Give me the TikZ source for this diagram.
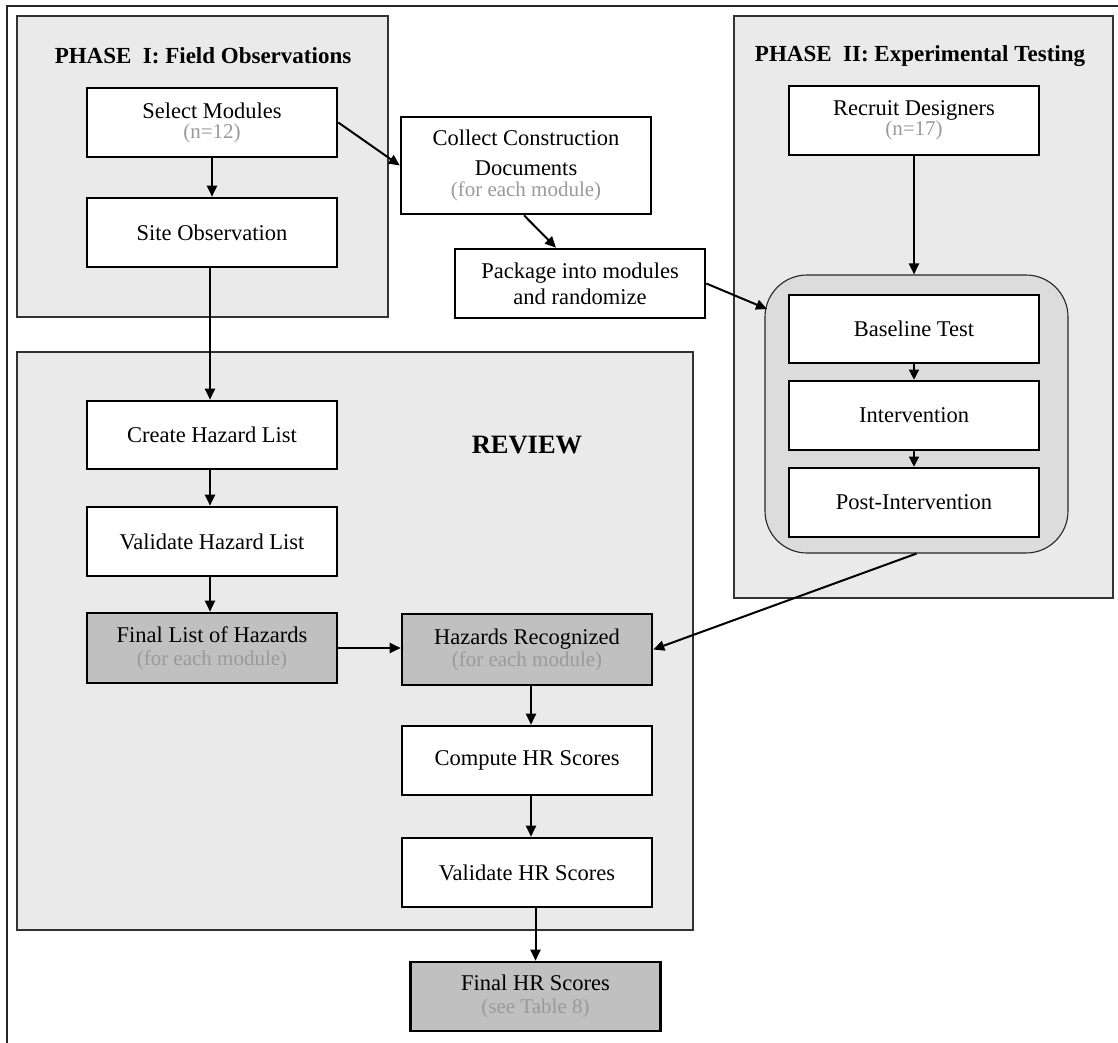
\documentclass[tikz,border=0pt]{standalone}
\usepackage{fontspec}
\setmainfont{Liberation Serif}
\usetikzlibrary{arrows.meta}
\definecolor{panel}{HTML}{EAEAEA}
\definecolor{groupfill}{HTML}{DCDCDC}
\definecolor{darkfill}{HTML}{C0C0C0}
\definecolor{subgray}{HTML}{9A9A9A}
\newcommand\subtxt[1]{{\color{subgray}\fontsize{21}{24}\selectfont #1}}
\begin{document}
\begin{tikzpicture}[x=1pt,y=-1pt,
  box/.style={draw=black,line width=2.6pt,fill=white,minimum width=250pt,minimum height=69pt,
    align=center,inner sep=0pt,font=\fontsize{22.5}{26}\selectfont},
  dbox/.style={box,fill=darkfill},
  panelbox/.style={draw=black!80,line width=1.1pt,fill=panel},
  title/.style={font=\bfseries\fontsize{23}{27}\selectfont,inner sep=0pt},
  arr/.style={-{Triangle[length=11pt,width=10pt]},line width=2pt},
  sarr/.style={-{Triangle[length=10pt,width=10pt]},line width=1.4pt}
]
\useasboundingbox (0,0) rectangle (1118,1043);
% outer frame (right and bottom edges lie outside the picture)
\draw[line width=1.4pt,black!85] (7,1043) -- (7,6) -- (1118,6);

% panels
\draw[panelbox] (17,16) rectangle (388,317);
\draw[panelbox] (734,16) rectangle (1113,598);
\draw[panelbox] (17,352) rectangle (693,930);

\node[title] (t1) at (203,56) {PHASE\ \ I: Field Observations};
\node[title] (t2) at (920,56) {PHASE\ \ II: Experimental\ Testing};
\node[font=\bfseries\fontsize{26.5}{30}\selectfont,inner sep=0pt] (rev) at (527,445) {REVIEW};

% rounded group
\node[draw=black!85,line width=1.1pt,fill=groupfill,rounded corners=42pt,
      minimum width=303pt,minimum height=278pt,inner sep=0pt] (grp) at (916.5,414) {};
\coordinate (grpin) at (767,309);

% Phase I
\node[box] (sel) at (212,122.5) {Select Modules\\[-6pt]\subtxt{(n=12)}};
\node[box] (site) at (212,232.5) {Site Observation};

% middle
\node[box,minimum height=97pt] (col) at (526,165.5) {\rule{0pt}{8pt}Collect Construction\\[4pt]Documents\\[-5pt]\subtxt{(for each module)}};
\node[box] (pkg) at (580,283.5) {Package into modules\\and randomize};

% Phase II
\node[box] (rec) at (914,120.5) {Recruit Designers\\[-6pt]\subtxt{(n=17)}};
\node[box,minimum height=68pt] (base) at (914,329) {Baseline Test};
\node[box] (int) at (914,415.5) {Intervention};
\node[box] (post) at (914,502.5) {Post-Intervention};

% Review
\node[box,minimum height=68pt] (chl) at (212,435) {Create Hazard List};
\node[box] (vhl) at (212,541.5) {Validate Hazard List};
\node[dbox,minimum height=70pt] (fl) at (212,648) {Final List of Hazards\\[-3pt]\subtxt{(for each module)}};
\node[dbox,minimum height=71pt] (hr) at (527,649.5) {Hazards Recognized\\[-4pt]\subtxt{(for each module)}};
\node[box] (chr) at (527,760.5) {Compute HR Scores};
\node[box] (vhr) at (527,872.5) {Validate HR Scores};
\node[dbox] (fhr) at (535.5,996.5) {Final HR Scores\\[-3pt]\subtxt{(see Table 8)}};

% connectors
\draw[arr] (sel) -- (site);
\draw[arr] (sel.east) -- (col.west);
\draw[arr] ([xshift=-2pt]col.south) -- ([xshift=-24pt]pkg.north);
\draw[arr] (pkg.east) -- (grpin);
\draw[arr] (rec.south) -- (rec.south |- grp.north);
\draw[sarr] (base) -- (int);
\draw[sarr] (int) -- (post);
\draw[arr] ([xshift=-2pt]site.south) -- ([xshift=-2pt]chl.north);
\draw[arr] ([xshift=-2pt]chl.south) -- ([xshift=-2pt]vhl.north);
\draw[arr] ([xshift=-2pt]vhl.south) -- ([xshift=-2pt]fl.north);
\draw[arr] (fl.east) -- (fl.east -| hr.west);
\draw[arr] (grp.south) -- (hr.east);
\draw[arr] ([xshift=4pt]hr.south) -- ([xshift=4pt]chr.north);
\draw[arr] ([xshift=4pt]chr.south) -- ([xshift=4pt]vhr.north);
\draw[arr] (fhr.north |- vhr.south) -- (fhr.north);
\end{tikzpicture}
\end{document}
